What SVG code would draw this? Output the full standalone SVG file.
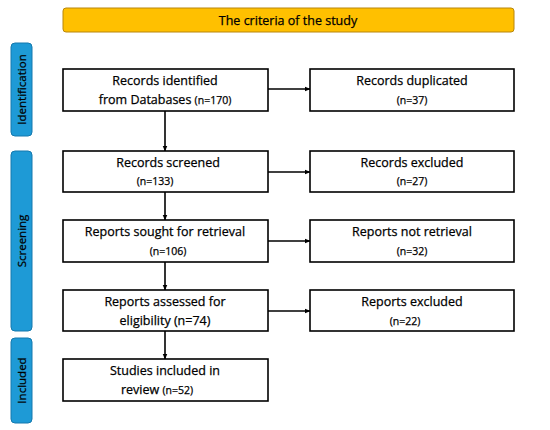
<svg xmlns="http://www.w3.org/2000/svg" width="550" height="430" viewBox="0 0 550 430">
<defs>
<style>
.box{fill:#fff;stroke:#000;stroke-width:1.6}
.side{fill:#1E9AD6;stroke:#1479AE;stroke-width:1}
.t{font-family:"Open Sans","Liberation Sans",sans-serif;font-size:12.5px;fill:#000;stroke:#000;stroke-width:0.25;text-anchor:middle}
.s{font-size:10.5px}
.st{font-family:"Open Sans","Liberation Sans",sans-serif;font-size:11.5px;fill:#000;stroke:#000;stroke-width:0.25;text-anchor:middle}
.c{stroke:#000;stroke-width:1.6;fill:none;marker-end:url(#ah)}
</style>
<marker id="ah" viewBox="0 0 10 10" refX="9" refY="5" markerWidth="6" markerHeight="6" orient="auto" markerUnits="userSpaceOnUse"><path d="M0,1 L10,5 L0,9 z" fill="#000"/></marker>
</defs>
<rect width="550" height="430" fill="#fff"/>
<g id="title">
<rect x="63" y="8" width="451" height="24" rx="3" fill="#FFC000" stroke="#B8860B" stroke-width="1"/>
<text class="t" x="288" y="24.5">The criteria of the study</text>
</g>
<g id="identification">
<rect class="side" x="11" y="43" width="21" height="93" rx="4"/>
<text class="st" transform="translate(25.5,89.5) rotate(-90)">Identification</text>
</g>
<g id="screening">
<rect class="side" x="11" y="151" width="21" height="180" rx="4"/>
<text class="st" transform="translate(25.5,241) rotate(-90)">Screening</text>
</g>
<g id="included">
<rect class="side" x="11" y="338" width="21" height="85" rx="4"/>
<text class="st" transform="translate(25.5,380.5) rotate(-90)">Included</text>
</g>
<g id="connectors">
<line class="c" x1="165" y1="111" x2="165" y2="151"/>
<line class="c" x1="165" y1="192" x2="165" y2="220"/>
<line class="c" x1="165" y1="262" x2="165" y2="290"/>
<line class="c" x1="165" y1="331" x2="165" y2="359"/>
<line class="c" x1="268" y1="89" x2="310" y2="89"/>
<line class="c" x1="268" y1="172" x2="310" y2="172"/>
<line class="c" x1="268" y1="241" x2="310" y2="241"/>
<line class="c" x1="268" y1="311" x2="310" y2="311"/>
</g>
<g id="n1">
<rect class="box" x="63" y="69" width="205" height="42"/>
<text class="t" x="165" y="85">Records identified</text>
<text class="t" x="165" y="104">from Databases <tspan class="s">(n=170)</tspan></text>
</g>
<g id="n2">
<rect class="box" x="310" y="69" width="204" height="42"/>
<text class="t" x="412" y="85">Records duplicated</text>
<text class="t s" x="412" y="104">(n=37)</text>
</g>
<g id="n3">
<rect class="box" x="63" y="151" width="205" height="41"/>
<text class="t" x="168" y="167">Records screened</text>
<text class="t s" x="155" y="185">(n=133)</text>
</g>
<g id="n4">
<rect class="box" x="310" y="151" width="204" height="41"/>
<text class="t" x="412" y="167">Records excluded</text>
<text class="t s" x="412" y="185">(n=27)</text>
</g>
<g id="n5">
<rect class="box" x="63" y="220" width="205" height="42"/>
<text class="t" x="165" y="236">Reports sought for retrieval</text>
<text class="t s" x="168" y="255">(n=106)</text>
</g>
<g id="n6">
<rect class="box" x="310" y="220" width="204" height="42"/>
<text class="t" x="412" y="236">Reports not retrieval</text>
<text class="t s" x="412" y="255">(n=32)</text>
</g>
<g id="n7">
<rect class="box" x="63" y="290" width="205" height="41"/>
<text class="t" x="165" y="306">Reports assessed for</text>
<text class="t" x="165" y="325">eligibility (n=74)</text>
</g>
<g id="n8">
<rect class="box" x="310" y="290" width="204" height="41"/>
<text class="t" x="412" y="306">Reports excluded</text>
<text class="t s" x="405" y="325">(n=22)</text>
</g>
<g id="n9">
<rect class="box" x="63" y="359" width="205" height="42"/>
<text class="t" x="165" y="375">Studies included in</text>
<text class="t" x="157" y="394">review <tspan class="s">(n=52)</tspan></text>
</g>
</svg>
